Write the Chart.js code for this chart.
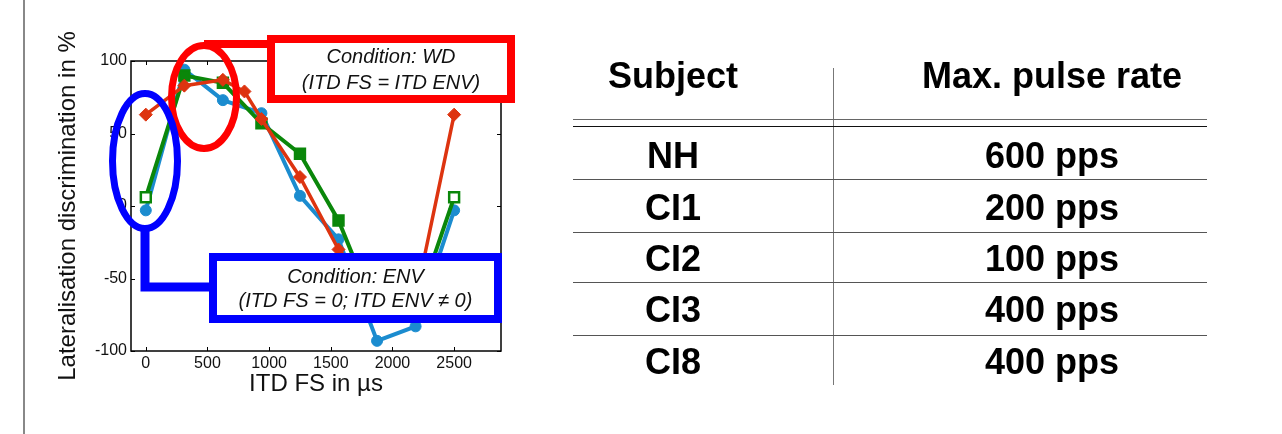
<!DOCTYPE html>
<html>
<head>
<meta charset="utf-8">
<script src="https://cdn.jsdelivr.net/npm/chart.js@4.4.0/dist/chart.umd.min.js"></script>
<style>
    html, body { margin: 0; padding: 0; background: #fff; }
    #wrap { position: relative; width: 1282px; height: 434px; overflow: hidden; font-family: "Liberation Sans", Arial, sans-serif; }
    #chart { position: absolute; left: 0; top: 0; }
    .cell { position: absolute; width: 400px; text-align: center; font-weight: bold; font-size: 36px; line-height: 40px; color: #000; }
    .hline { position: absolute; left: 573px; width: 634px; height: 0; }
    #vline { position: absolute; left: 833px; top: 68px; width: 0; height: 317px; border-left: 1.5px solid #777; }
    #edge { position: absolute; left: 23px; top: 0; width: 0; height: 434px; border-left: 2px solid #888; }
</style>
</head>
<body>
<div id="wrap">
    <div id="edge"></div>
    <canvas id="chart" width="1282" height="434"></canvas>
    <div id="vline"></div>
</div>
<script>
// chart data
const xValues = [0, 312.5, 625, 937.5, 1250, 1562.5, 1875, 2187.5, 2500];
const blueValues = [-3, 94, 73, 64, 7, -23, -93, -83, -3];
const greenValues = [6, 90, 85, 57, 36, -10, -75, -72, 6];
const redX = [0, 312.5, 625, 800, 937.5, 1250, 1562.5, 1875, 2187.5, 2500];
const redValues = [63, 83, 87, 79, 60, 20, -30, -60, -64, 63];

const xTicks = [0, 500, 1000, 1500, 2000, 2500];
const yTicks = [-100, -50, 0, 50, 100];

// table data
const tableHeader = ['Subject', 'Max. pulse rate'];
const subjects = ['NH', 'CI1', 'CI2', 'CI3', 'CI8'];
const pulseRates = ['600 pps', '200 pps', '100 pps', '400 pps', '400 pps'];

// annotation texts
const wdText = ['Condition: WD', '(ITD FS = ITD ENV)'];
const envText = ['Condition: ENV', '(ITD FS = 0; ITD ENV \u2260 0)'];

const BLUE = '#1b8ccf';
const GREEN = '#0a870a';
const RED = '#dd3410';

function toPoints(xs, ys) {
    return xs.map((x, i) => ({ x: x, y: ys[i] }));
}

// build the table on the right
function buildTable() {
    const wrap = document.getElementById('wrap');
    const colX = [673, 1052];
    const headerY = 76;
    const rowY = [156, 208, 259, 310, 362];

    function addText(txt, cx, cy) {
        const d = document.createElement('div');
        d.className = 'cell';
        d.style.left = (cx - 200) + 'px';
        d.style.top = (cy - 20) + 'px';
        d.textContent = txt;
        wrap.appendChild(d);
    }
    function addLine(y, color) {
        const d = document.createElement('div');
        d.className = 'hline';
        d.style.top = y + 'px';
        d.style.borderTop = '1.5px solid ' + color;
        wrap.appendChild(d);
    }

    tableHeader.forEach((h, i) => addText(h, colX[i], headerY));
    subjects.forEach((s, i) => {
        addText(s, colX[0], rowY[i]);
        addText(pulseRates[i], colX[1], rowY[i]);
    });
    addLine(119, '#666');
    addLine(126, '#111');
    [179, 232, 282, 335].forEach(y => addLine(y, '#555'));
}

// frame and inward ticks, matlab style
const framePlugin = {
    id: 'frame',
    afterDatasetsDraw(chart) {
        const { ctx, chartArea: a, scales } = chart;
        ctx.save();
        ctx.strokeStyle = '#000';
        ctx.lineWidth = 1.5;
        ctx.strokeRect(a.left, a.top, a.right - a.left, a.bottom - a.top);
        ctx.lineWidth = 1;
        ctx.beginPath();
        xTicks.forEach(v => {
            const px = Math.round(scales.x.getPixelForValue(v)) + 0.5;
            ctx.moveTo(px, a.bottom); ctx.lineTo(px, a.bottom - 4);
            ctx.moveTo(px, a.top); ctx.lineTo(px, a.top + 4);
        });
        yTicks.forEach(v => {
            const py = Math.round(scales.y.getPixelForValue(v)) + 0.5;
            ctx.moveTo(a.left, py); ctx.lineTo(a.left + 4, py);
            ctx.moveTo(a.right, py); ctx.lineTo(a.right - 4, py);
        });
        ctx.stroke();
        ctx.restore();
    }
};

// ellipses and callout boxes
const calloutPlugin = {
    id: 'callouts',
    afterDraw(chart) {
        const ctx = chart.ctx;
        ctx.save();

        function ellipse(cx, cy, rx, ry, color) {
            ctx.beginPath();
            ctx.ellipse(cx, cy, rx, ry, 0, 0, Math.PI * 2);
            ctx.strokeStyle = color;
            ctx.lineWidth = 7;
            ctx.stroke();
        }
        function box(x, y, w, h, color, lines, cy1, cy2) {
            ctx.fillStyle = '#fff';
            ctx.fillRect(x, y, w, h);
            ctx.strokeStyle = color;
            ctx.lineWidth = 8;
            ctx.strokeRect(x, y, w, h);
            ctx.fillStyle = '#111';
            ctx.font = 'italic 20px "Liberation Sans", Arial, sans-serif';
            ctx.textAlign = 'center';
            ctx.textBaseline = 'middle';
            ctx.fillText(lines[0], x + w / 2, cy1);
            ctx.fillText(lines[1], x + w / 2, cy2);
        }

        // WD callout (red)
        ellipse(204, 97, 32.5, 51.5, '#ff0000');
        ctx.beginPath();
        ctx.moveTo(204, 44);
        ctx.lineTo(272, 44);
        ctx.strokeStyle = '#ff0000';
        ctx.lineWidth = 8;
        ctx.stroke();
        box(271, 39, 240, 60, '#ff0000', wdText, 57, 83);

        // ENV callout (blue)
        ellipse(145, 161, 32.5, 67.5, '#0000ff');
        ctx.beginPath();
        ctx.moveTo(145, 226);
        ctx.lineTo(145, 287);
        ctx.lineTo(214, 287);
        ctx.strokeStyle = '#0000ff';
        ctx.lineWidth = 9;
        ctx.stroke();
        box(213, 257, 285, 62, '#0000ff', envText, 277, 301);

        ctx.restore();
    }
};

Chart.defaults.font.family = '"Liberation Sans", Arial, sans-serif';
Chart.defaults.color = '#111';

function initChart() {
    const ctx = document.getElementById('chart').getContext('2d');
    const lastIdx = xValues.length - 1;
    new Chart(ctx, {
        type: 'scatter',
        data: {
            datasets: [
                {
                    label: 'Blue',
                    data: toPoints(xValues, blueValues),
                    showLine: true,
                    borderColor: BLUE,
                    backgroundColor: BLUE,
                    borderWidth: 4,
                    pointStyle: 'circle',
                    pointRadius: 5.5,
                    pointBorderWidth: 1,
                    order: 3
                },
                {
                    label: 'Green',
                    data: toPoints(xValues, greenValues),
                    showLine: true,
                    borderColor: GREEN,
                    borderWidth: 4,
                    pointStyle: 'rect',
                    pointRadius: 7,
                    pointBorderWidth: 2.5,
                    pointBorderColor: GREEN,
                    pointBackgroundColor: c => (c.dataIndex === 0 || c.dataIndex === lastIdx) ? '#fff' : GREEN,
                    order: 2
                },
                {
                    label: 'Red',
                    data: toPoints(redX, redValues),
                    showLine: true,
                    borderColor: RED,
                    backgroundColor: RED,
                    borderWidth: 3.5,
                    pointStyle: 'rectRot',
                    pointRadius: 6.5,
                    pointBorderWidth: 1,
                    order: 1
                }
            ]
        },
        options: {
            responsive: false,
            animation: false,
            events: [],
            layout: { padding: { left: 0, top: 61, right: 781, bottom: 0 } },
            plugins: { legend: { display: false }, tooltip: { enabled: false } },
            scales: {
                x: {
                    type: 'linear',
                    min: -120,
                    max: 2880,
                    afterFit: s => { s.height = 83; },
                    afterBuildTicks: s => { s.ticks = xTicks.map(v => ({ value: v })); },
                    grid: { display: false, drawTicks: false },
                    border: { display: false },
                    ticks: { font: { size: 16 }, padding: 3, maxRotation: 0, autoSkip: false, callback: v => String(v) },
                    title: { display: true, text: 'ITD FS in \u00b5s', font: { size: 24 }, padding: { top: 0, bottom: 35 } }
                },
                y: {
                    min: -100,
                    max: 100,
                    afterFit: s => { s.width = 131; },
                    afterBuildTicks: s => { s.ticks = yTicks.map(v => ({ value: v })); },
                    grid: { display: false, drawTicks: false },
                    border: { display: false },
                    ticks: { font: { size: 16 }, padding: 4, callback: v => String(v) },
                    title: { display: true, text: 'Lateralisation discrimination in %', font: { size: 24 }, padding: { top: 54, bottom: 0 } }
                }
            }
        },
        plugins: [framePlugin, calloutPlugin]
    });
}

buildTable();
initChart();
</script>
</body>
</html>
